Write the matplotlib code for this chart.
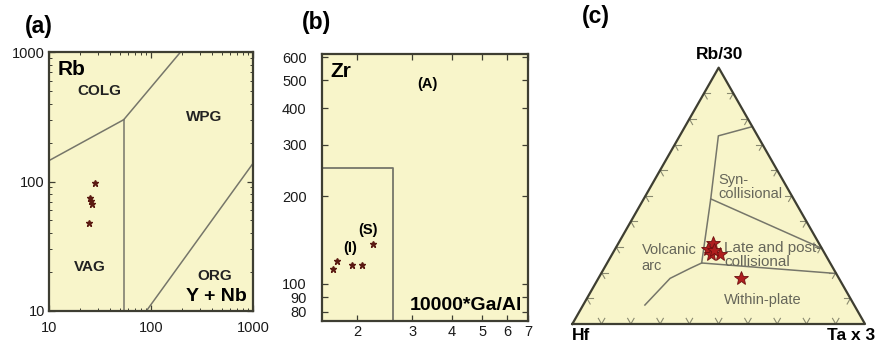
import numpy as np
import matplotlib
matplotlib.use("Agg")
import matplotlib.pyplot as plt
from matplotlib.ticker import FixedLocator, FixedFormatter, NullLocator, LogLocator, NullFormatter

plt.rcParams['font.family'] = ['Liberation Sans', 'DejaVu Sans']

# (a) Rb vs Y+Nb
a_ynb = [28.5, 25.0, 25.8, 26.5, 24.5]
a_rb = [97, 74, 71, 67, 48]
a_colg_vag = ([10, 54], [145, 300])
a_colg_wpg = ([54, 195], [300, 1000])
a_vag_wpg = ([54, 54], [300, 10])
a_wpg_org = ([90, 1000], [10, 138])

# (b) Zr vs 10000*Ga/Al
b_gaal = [1.68, 1.73, 1.93, 2.07, 2.25]
b_zr = [112, 120, 116, 116, 137]
b_box_x = [1.55, 2.6, 2.6]
b_box_y = [250, 250, 60]
b_yticks = [80, 90, 100, 200, 300, 400, 500, 600]
b_xticks = [2, 3, 4, 5, 6, 7]

# (c) Hf - Rb/30 - Ta*3 ternary (fractions)
c_hf = [0.361, 0.390, 0.390, 0.359, 0.372, 0.333]
c_rb = [0.316, 0.293, 0.273, 0.273, 0.289, 0.181]
c_ta = [0.323, 0.317, 0.337, 0.368, 0.339, 0.486]
# boundaries as (Rb/30, Ta*3) fractions
c_outer_box = ([0.770, 0.734, 0.488, 0.238, 0.197], [0.230, 0.132, 0.229, 0.323, 0.803])
c_syn_late = ([0.488, 0.295], [0.229, 0.705])
c_arc_curve = ([0.074, 0.178, 0.217, 0.238], [0.211, 0.245, 0.294, 0.323])

BG = '#f8f5ca'
FRAME = '#3e3e32'
LINE = '#76766a'
STAR_DARK = '#5b1a12'


def tern_xy(t, r):
    t = np.asarray(t, float)
    r = np.asarray(r, float)
    return r + t / 2, t * np.sqrt(3) / 2


fig = plt.figure(figsize=(8.81, 3.43), dpi=100)

# ---------------- (a)
ax1 = fig.add_axes([49 / 881, 32 / 343, 204 / 881, 259 / 343])
ax1.set_facecolor(BG)
ax1.set_xscale('log')
ax1.set_yscale('log')
ax1.set_xlim(10, 1000)
ax1.set_ylim(10, 1000)
for xs, ys in [a_colg_vag, a_colg_wpg, a_vag_wpg, a_wpg_org]:
    ax1.plot(xs, ys, color=LINE, lw=1.1)
ax1.plot(a_ynb, a_rb, '*', color=STAR_DARK, ms=5, mec=STAR_DARK)
ax1.xaxis.set_major_locator(FixedLocator([10, 100, 1000]))
ax1.yaxis.set_major_locator(FixedLocator([10, 100, 1000]))
ax1.xaxis.set_major_formatter(FixedFormatter(['10', '100', '1000']))
ax1.yaxis.set_major_formatter(FixedFormatter(['10', '100', '1000']))
ax1.xaxis.set_minor_locator(LogLocator(base=10, subs=np.arange(2, 10)))
ax1.yaxis.set_minor_locator(LogLocator(base=10, subs=np.arange(2, 10)))
ax1.xaxis.set_minor_formatter(NullFormatter())
ax1.yaxis.set_minor_formatter(NullFormatter())
ax1.text(0.04, 0.97, 'Rb', transform=ax1.transAxes, fontsize=15, fontweight='bold', va='top', ha='left')
ax1.text(31, 500, 'COLG', fontsize=11, fontweight='bold', ha='center', va='center', color='#222222')
ax1.text(330, 315, 'WPG', fontsize=11, fontweight='bold', ha='center', va='center', color='#222222')
ax1.text(25, 22, 'VAG', fontsize=11, fontweight='bold', ha='center', va='center', color='#222222')
ax1.text(420, 18.5, 'ORG', fontsize=11, fontweight='bold', ha='center', va='center', color='#222222')
ax1.text(0.97, 0.025, 'Y + Nb', transform=ax1.transAxes, fontsize=14, fontweight='bold', ha='right', va='bottom')

# ---------------- (b)
ax2 = fig.add_axes([322 / 881, 22 / 343, 206 / 881, 267 / 343])
ax2.set_facecolor(BG)
ax2.set_xscale('log')
ax2.set_yscale('log')
ax2.set_xlim(1.55, 7)
ax2.set_ylim(74.5, 615)
ax2.plot(b_box_x, b_box_y, color=LINE, lw=1.3)
ax2.plot(b_gaal, b_zr, '*', color=STAR_DARK, ms=5, mec=STAR_DARK)
ax2.xaxis.set_major_locator(FixedLocator(b_xticks))
ax2.xaxis.set_major_formatter(FixedFormatter([str(v) for v in b_xticks]))
ax2.yaxis.set_major_locator(FixedLocator(b_yticks))
ax2.yaxis.set_major_formatter(FixedFormatter([str(v) for v in b_yticks]))
ax2.xaxis.set_minor_locator(NullLocator())
ax2.yaxis.set_minor_locator(NullLocator())
ax2.text(0.04, 0.97, 'Zr', transform=ax2.transAxes, fontsize=15, fontweight='bold', va='top', ha='left')
ax2.text(3.35, 487, '(A)', fontsize=10.5, fontweight='bold', ha='center', va='center')
ax2.text(1.9, 133, '(I)', fontsize=10.5, fontweight='bold', ha='center', va='center')
ax2.text(2.17, 153, '(S)', fontsize=10.5, fontweight='bold', ha='center', va='center')
ax2.text(0.97, 0.025, '10000*Ga/Al', transform=ax2.transAxes, fontsize=14, fontweight='bold', ha='right', va='bottom')

for ax in (ax1, ax2):
    for s in ax.spines.values():
        s.set_color(FRAME)
        s.set_linewidth(1.6)
    ax.tick_params(which='both', direction='in', top=True, right=True, color=FRAME,
                   labelsize=10.5, labelcolor='#1a1a1a', pad=3)
    ax.tick_params(which='major', length=4, width=0.9)
    ax.tick_params(which='minor', length=2, width=0.7)
ax1.tick_params(axis='x', which='both', pad=7)
ax2.tick_params(axis='y', which='both', pad=11)

# ---------------- (c)
ax3 = fig.add_axes([552 / 881, 0, 329 / 881, 303 / 343])
ax3.set_xlim(-0.0694, 1.0547)
ax3.set_ylim(-0.0642, 0.9595)
ax3.axis('off')
tri_x, tri_y = tern_xy([0, 1, 0, 0], [0, 0, 1, 0])
ax3.fill(tri_x, tri_y, color=BG, zorder=0)
ax3.plot(tri_x, tri_y, color=FRAME, lw=1.6, zorder=3)

# tick stubs on each edge along the other two grid directions
stub = 0.022
dirs = {
    'bottom': [(np.cos(np.pi / 3), np.sin(np.pi / 3)), (-np.cos(np.pi / 3), np.sin(np.pi / 3))],
    'left': [(1, 0), (np.cos(np.pi / 3), -np.sin(np.pi / 3))],
    'right': [(-1, 0), (-np.cos(np.pi / 3), -np.sin(np.pi / 3))],
}
for f in np.arange(1, 10) / 10:
    pts = {
        'bottom': tern_xy(0, f),
        'left': tern_xy(f, 0),
        'right': tern_xy(f, 1 - f),
    }
    for edge, (px, py) in pts.items():
        for dx, dy in dirs[edge]:
            ax3.plot([px, px + stub * dx], [py, py + stub * dy], color='#8a8a70', lw=0.8, zorder=2)

for ts, rs in [c_outer_box, c_syn_late]:
    x, y = tern_xy(ts, rs)
    ax3.plot(x, y, color=LINE, lw=1.1, zorder=2)
x, y = tern_xy(*c_arc_curve)
ax3.plot(x, y, color=LINE, lw=1.1, zorder=2)

sx, sy = tern_xy(c_rb, c_ta)
ax3.plot(sx, sy, '*', color='#b01e1e', mec='#6e1010', ms=10, mew=0.6, zorder=4, ls='none')

TXT = '#66665a'
ax3.text(0.498, 0.463, 'Syn-\ncollisional', fontsize=10.5, color=TXT, ha='left', va='center', linespacing=1.0)
ax3.text(0.237, 0.223, 'Volcanic\narc', fontsize=10.5, color=TXT, ha='left', va='center', linespacing=1.1)
ax3.text(0.519, 0.233, 'Late and post-\ncollisional', fontsize=11, color=TXT, ha='left', va='center', linespacing=1.0)
ax3.text(0.649, 0.081, 'Within-plate', fontsize=10.5, color=TXT, ha='center', va='center')
ax3.text(0.5046, 0.909, 'Rb/30', fontsize=12.5, fontweight='bold', ha='center', va='center')
ax3.text(0.0, -0.040, 'Hf', fontsize=12.5, fontweight='bold', ha='left', va='center')
ax3.text(0.869, -0.040, 'Ta x 3', fontsize=12.5, fontweight='bold', ha='left', va='center')

# panel labels
fig.text(25 / 881, 1 - 27 / 343, '(a)', fontsize=16.5, fontweight='bold', ha='left', va='center')
fig.text(302 / 881, 1 - 23 / 343, '(b)', fontsize=16.5, fontweight='bold', ha='left', va='center')
fig.text(582 / 881, 1 - 17 / 343, '(c)', fontsize=16.5, fontweight='bold', ha='left', va='center')

fig.savefig('out.png', dpi=100)
